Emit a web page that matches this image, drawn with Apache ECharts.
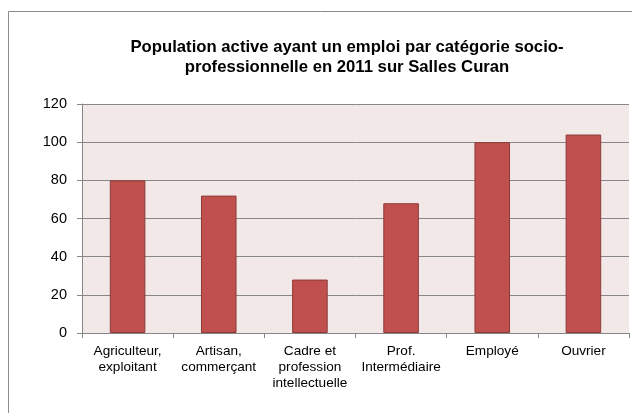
<!DOCTYPE html>
<html>
<head>
<meta charset="utf-8">
<script src="https://cdn.jsdelivr.net/npm/echarts@6/dist/echarts.min.js"></script>
<style>
  html, body { margin: 0; padding: 0; background: #ffffff; }
  #chart { width: 632px; height: 413px; }
</style>
</head>
<body>
<div id="chart"></div>
<script>
// Catégories socio-professionnelles
const categories = [
  'Agriculteur,\nexploitant',
  'Artisan,\ncommerçant',
  'Cadre et\nprofession\nintellectuelle',
  'Prof.\nIntermédiaire',
  'Employé',
  'Ouvrier'
];
// Actifs ayant un emploi (2011)
const values = [80, 72, 28, 68, 100, 104];
const yTicks = { min: 0, max: 120, interval: 20 };
const titleText = 'Population active ayant un emploi par catégorie socio-\nprofessionnelle en 2011 sur Salles Curan';

const FONT = 'Liberation Sans, Arial, sans-serif';

const chart = echarts.init(document.getElementById('chart'), null, { renderer: 'canvas' });
chart.setOption({
  backgroundColor: '#ffffff',
  animation: false,
  textStyle: { fontFamily: FONT },
  graphic: [{
    type: 'rect',
    shape: { x: 8.5, y: 11.5, width: 680, height: 420 },
    style: { fill: 'none', stroke: '#8c8c8c', lineWidth: 1 },
    silent: true,
    z: -10
  }],
  title: {
    text: titleText,
    left: 342,
    textAlign: 'center',
    top: 32,
    textStyle: {
      fontFamily: FONT,
      fontSize: 16.7,
      fontWeight: 'bold',
      color: '#000000',
      lineHeight: 20,
      align: 'center'
    }
  },
  grid: {
    left: 82, right: 3, top: 104, bottom: 80,
    show: true,
    backgroundColor: '#F2E8E8',
    borderWidth: 0
  },
  xAxis: {
    type: 'category',
    data: categories,
    axisLine: { lineStyle: { color: '#868686', width: 1 } },
    axisTick: { show: true, length: 5, lineStyle: { color: '#868686' } },
    axisLabel: {
      color: '#000000',
      fontSize: 13.6,
      lineHeight: 16,
      margin: 10,
      interval: 0,
      fontFamily: FONT
    }
  },
  yAxis: {
    type: 'value',
    min: yTicks.min,
    max: yTicks.max,
    interval: yTicks.interval,
    axisLine: { show: true, lineStyle: { color: '#868686', width: 1 } },
    axisTick: { show: true, length: 5, lineStyle: { color: '#868686' } },
    splitLine: { show: true, lineStyle: { color: '#878787', width: 1 } },
    axisLabel: {
      color: '#000000',
      fontSize: 14.5,
      margin: 15,
      fontFamily: FONT
    }
  },
  series: [{
    type: 'bar',
    data: values,
    barWidth: '39%',
    itemStyle: {
      color: '#C0504D',
      borderColor: '#8C3A38',
      borderWidth: 1
    }
  }]
});
</script>
</body>
</html>
